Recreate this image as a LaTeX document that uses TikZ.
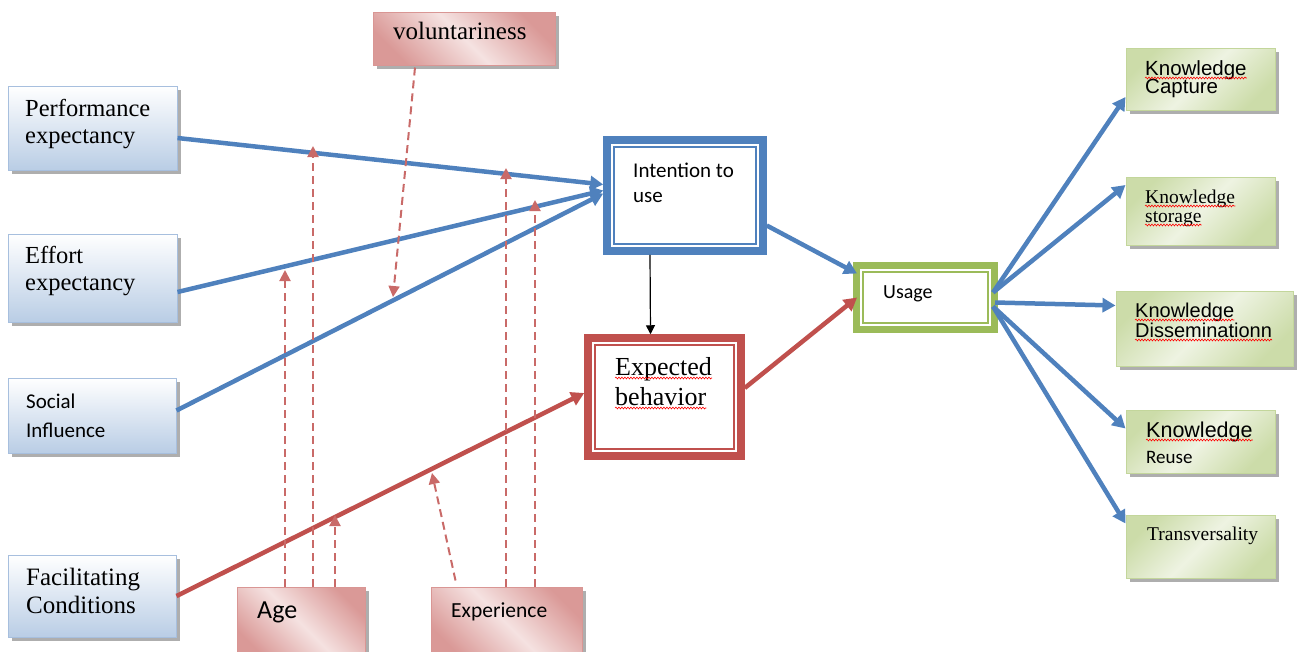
\documentclass[tikz,border=0pt]{standalone}
\usepackage{fontspec}
\setmainfont{Liberation Serif}
\newfontfamily\calib{Carlito}
\newfontfamily\arial{Liberation Sans}
\usetikzlibrary{arrows.meta,shadows,calc,decorations.pathmorphing}
\definecolor{bl}{HTML}{4F81BD}
\definecolor{rd}{HTML}{C0504D}
\definecolor{gr}{HTML}{9BBB59}
\definecolor{lbBot}{HTML}{B9CDE5}
\definecolor{lbBorder}{HTML}{A7BFDE}
\definecolor{pkA}{HTML}{F5E2E1}
\definecolor{pkB}{HTML}{DA9997}
\definecolor{pkBorder}{HTML}{D99694}
\definecolor{gnA}{HTML}{EEF3E2}
\definecolor{gnB}{HTML}{CCDCA9}
\definecolor{gnBorder}{HTML}{C3D69B}
\tikzset{
  shd/.style={drop shadow={shadow xshift=4pt, shadow yshift=-4pt, fill=black!45, opacity=0.7}},
  lbox/.style={shd, draw=lbBorder, line width=1pt, top color=white, bottom color=lbBot, inner sep=0pt},
  pbox/.style={shd, draw=pkBorder, line width=1pt, left color=pkB, right color=pkB, middle color=pkA, shading angle=135, inner sep=0pt},
  gbox/.style={shd, draw=gnBorder, line width=1pt, left color=gnB, right color=gnB, middle color=gnA, shading angle=45, inner sep=0pt},
  dbox/.style={line width=7.5pt, fill=white, inner sep=0pt},
  inbox/.style={line width=1.6pt},
  txt/.style={anchor=base west, inner sep=0pt},
  barrow/.style={draw=bl, line width=4.5pt, -{Triangle[length=13pt,width=14pt]}},
  rarrow/.style={draw=rd, line width=4.5pt, -{Triangle[length=13pt,width=14pt]}},
  darrow/.style={draw=rd!85!white, line width=2pt, dash pattern=on 8pt off 5pt, -{Triangle[length=11pt,width=11pt]}},
  squig/.style={draw=red, line width=0.6pt, decorate, decoration={snake, amplitude=0.9pt, segment length=3pt}},
}
\newcommand{\sq}[1]{\draw[squig] ($(#1.base west)+(0,3)$) -- ($(#1.base east)+(0,3)$);}
\newcommand{\inrect}[3]{\draw[inbox, draw=#2] ($(#1.north west)+(#3,#3)$) rectangle ($(#1.south east)+(-#3,-#3)$);}
\begin{document}
\begin{tikzpicture}[x=1pt,y=-1pt]
\useasboundingbox (0,0) rectangle (1300,651);
% left boxes
\node[lbox, minimum width=169pt, minimum height=84pt] (pe) at (92.5,128) {};
\node[lbox, minimum width=169pt, minimum height=88pt] (ee) at (92.5,278) {};
\node[lbox, minimum width=168pt, minimum height=75pt] (si) at (92,415.5) {};
\node[lbox, minimum width=168pt, minimum height=82pt] (fc) at (92,596) {};
% moderators
\node[pbox, minimum width=182pt, minimum height=53pt] (vol) at (464,38.5) {};
\node[pbox, minimum width=128pt, minimum height=73pt] (age) at (301,623.5) {};
\node[pbox, minimum width=151pt, minimum height=73pt] (exp) at (506.5,623.5) {};
% centre boxes
\node[dbox, draw=bl, minimum width=156pt, minimum height=111pt] (iu) at (685,195.5) {};
\inrect{iu}{bl}{10.5}
\node[dbox, draw=rd, minimum width=153pt, minimum height=118pt] (eb) at (664.5,397) {};
\inrect{eb}{rd}{10.5}
\node[dbox, draw=gr, line width=7pt, minimum width=138pt, minimum height=64pt] (us) at (925.5,297.5) {};
\inrect{us}{gr}{10}
% right boxes
\node[gbox, minimum width=149pt, minimum height=62pt] (kc) at (1200.5,79) {};
\node[gbox, minimum width=149pt, minimum height=68pt] (ks) at (1200.5,211) {};
\node[gbox, minimum width=177pt, minimum height=75pt] (kd) at (1204.5,328.5) {};
\node[gbox, minimum width=149pt, minimum height=63pt] (kr) at (1200.5,441.5) {};
\node[gbox, minimum width=149pt, minimum height=63pt] (kt) at (1200.5,546.5) {};
% texts
\node[txt, font=\fontsize{24.5}{28}\selectfont] (t1) at (25,116) {Performance};
\node[txt, font=\fontsize{24.5}{28}\selectfont] (t2) at (25,143) {expectancy};
\node[txt, font=\fontsize{24.5}{28}\selectfont] (t3) at (25,263) {Effort};
\node[txt, font=\fontsize{24.5}{28}\selectfont] (t4) at (25,290) {expectancy};
\node[txt, font=\calib\fontsize{21}{24}\selectfont] (t5) at (26,408) {Social};
\node[txt, font=\calib\fontsize{21}{24}\selectfont] (t6) at (26,437) {Influence};
\node[txt, font=\fontsize{25}{28}\selectfont] (t7) at (26,585) {Facilitating};
\node[txt, font=\fontsize{25}{28}\selectfont] (t8) at (26,613) {Conditions};
\node[txt, font=\fontsize{25}{28}\selectfont] (t9) at (393,39) {voluntariness};
\node[txt, font=\calib\fontsize{26}{28}\selectfont] (t10) at (257,618) {Age};
\node[txt, font=\calib\fontsize{21.5}{24}\selectfont] (t11) at (451,617) {Experience};
\node[txt, font=\calib\fontsize{21}{24}\selectfont] (t12) at (633,177) {Intention to};
\node[txt, font=\calib\fontsize{21}{24}\selectfont] (t13) at (633,202) {use};
\node[txt, font=\fontsize{26}{28}\selectfont] (t14) at (615,375) {Expected};
\node[txt, font=\fontsize{26}{28}\selectfont] (t15) at (615,405) {behavior};
\node[txt, font=\calib\fontsize{20}{24}\selectfont] (t16) at (883,298) {Usage};
\node[txt, font=\arial\fontsize{20.5}{22}\selectfont] (t17) at (1145,75) {Knowledge};
\node[txt, font=\arial\fontsize{20.5}{22}\selectfont] (t18) at (1145,93) {Capture};
\node[txt, font=\fontsize{19.5}{22}\selectfont] (t19) at (1145,203) {Knowledge};
\node[txt, font=\fontsize{19.5}{22}\selectfont] (t20) at (1145,222) {storage};
\node[txt, font=\arial\fontsize{20}{22}\selectfont] (t21) at (1135,317) {Knowledge};
\node[txt, font=\arial\fontsize{20}{22}\selectfont] (t22) at (1135,337) {Disseminationn};
\node[txt, font=\arial\fontsize{21.5}{22}\selectfont] (t23) at (1146,437) {Knowledge};
\node[txt, font=\calib\fontsize{19}{22}\selectfont] (t24) at (1146,463) {Reuse};
\node[txt, font=\fontsize{19.5}{22}\selectfont] (t25) at (1147,540) {Transversality};
\sq{t14}\sq{t15}\sq{t17}\sq{t19}\sq{t20}\sq{t21}\sq{t22}\sq{t23}
% main connectors
\draw[barrow] ($(pe.east)+(0,10)$) -- ($(iu.west)+(0,-11)$);
\draw[barrow] ($(ee.east)+(0,14)$) -- ($(iu.west)+(0,-5)$);
\draw[barrow] ($(si.east)+(0,-5)$) -- ($(iu.west)+(0,-2)$);
\draw[rarrow] (fc.east) -- ($(eb.west)+(0,-4)$);
\draw[-{Triangle[length=9pt,width=9pt]}, line width=1.2pt] ($(iu.south)+(-35,0)$) -- ($(eb.north)+(-14,0)$);
\draw[barrow] ($(iu.east)+(0,30)$) -- ($(us.west)+(4,-24)$);
\draw[rarrow] ($(eb.east)+(0,-9)$) -- ($(us.west)+(4,0)$);
\draw[barrow] ($(us.east)+(-5,-5)$) -- ($(kc.west)+(0,18)$);
\draw[barrow] ($(us.east)+(-5,-5)$) -- ($(ks.west)+(0,-26)$);
\draw[barrow] ($(us.east)+(-3,5)$) -- ($(kd.west)+(0,-23)$);
\draw[barrow] ($(us.east)+(-5,9)$) -- ($(kr.west)+(0,-13)$);
\draw[barrow] ($(us.east)+(-5,9)$) -- ($(kt.west)+(0,-23)$);
% moderating connectors
\coordinate (a1) at (285,270);
\coordinate (a2) at (313,146);
\coordinate (a3) at (335,515);
\coordinate (e1) at (506,168);
\coordinate (e2) at (535,200);
\coordinate (e3) at (432,473);
\coordinate (v1) at (393,297);
\draw[darrow] (age.north -| a1) -- (a1);
\draw[darrow] (age.north -| a2) -- (a2);
\draw[darrow] (age.north -| a3) -- (a3);
\draw[darrow] (exp.north -| e1) -- (e1);
\draw[darrow] (exp.north -| e2) -- (e2);
\draw[darrow] ($(exp.north)+(-51,-6)$) -- (e3);
\draw[darrow] ($(vol.south)+(-49,2)$) -- (v1);
\end{tikzpicture}
\end{document}
